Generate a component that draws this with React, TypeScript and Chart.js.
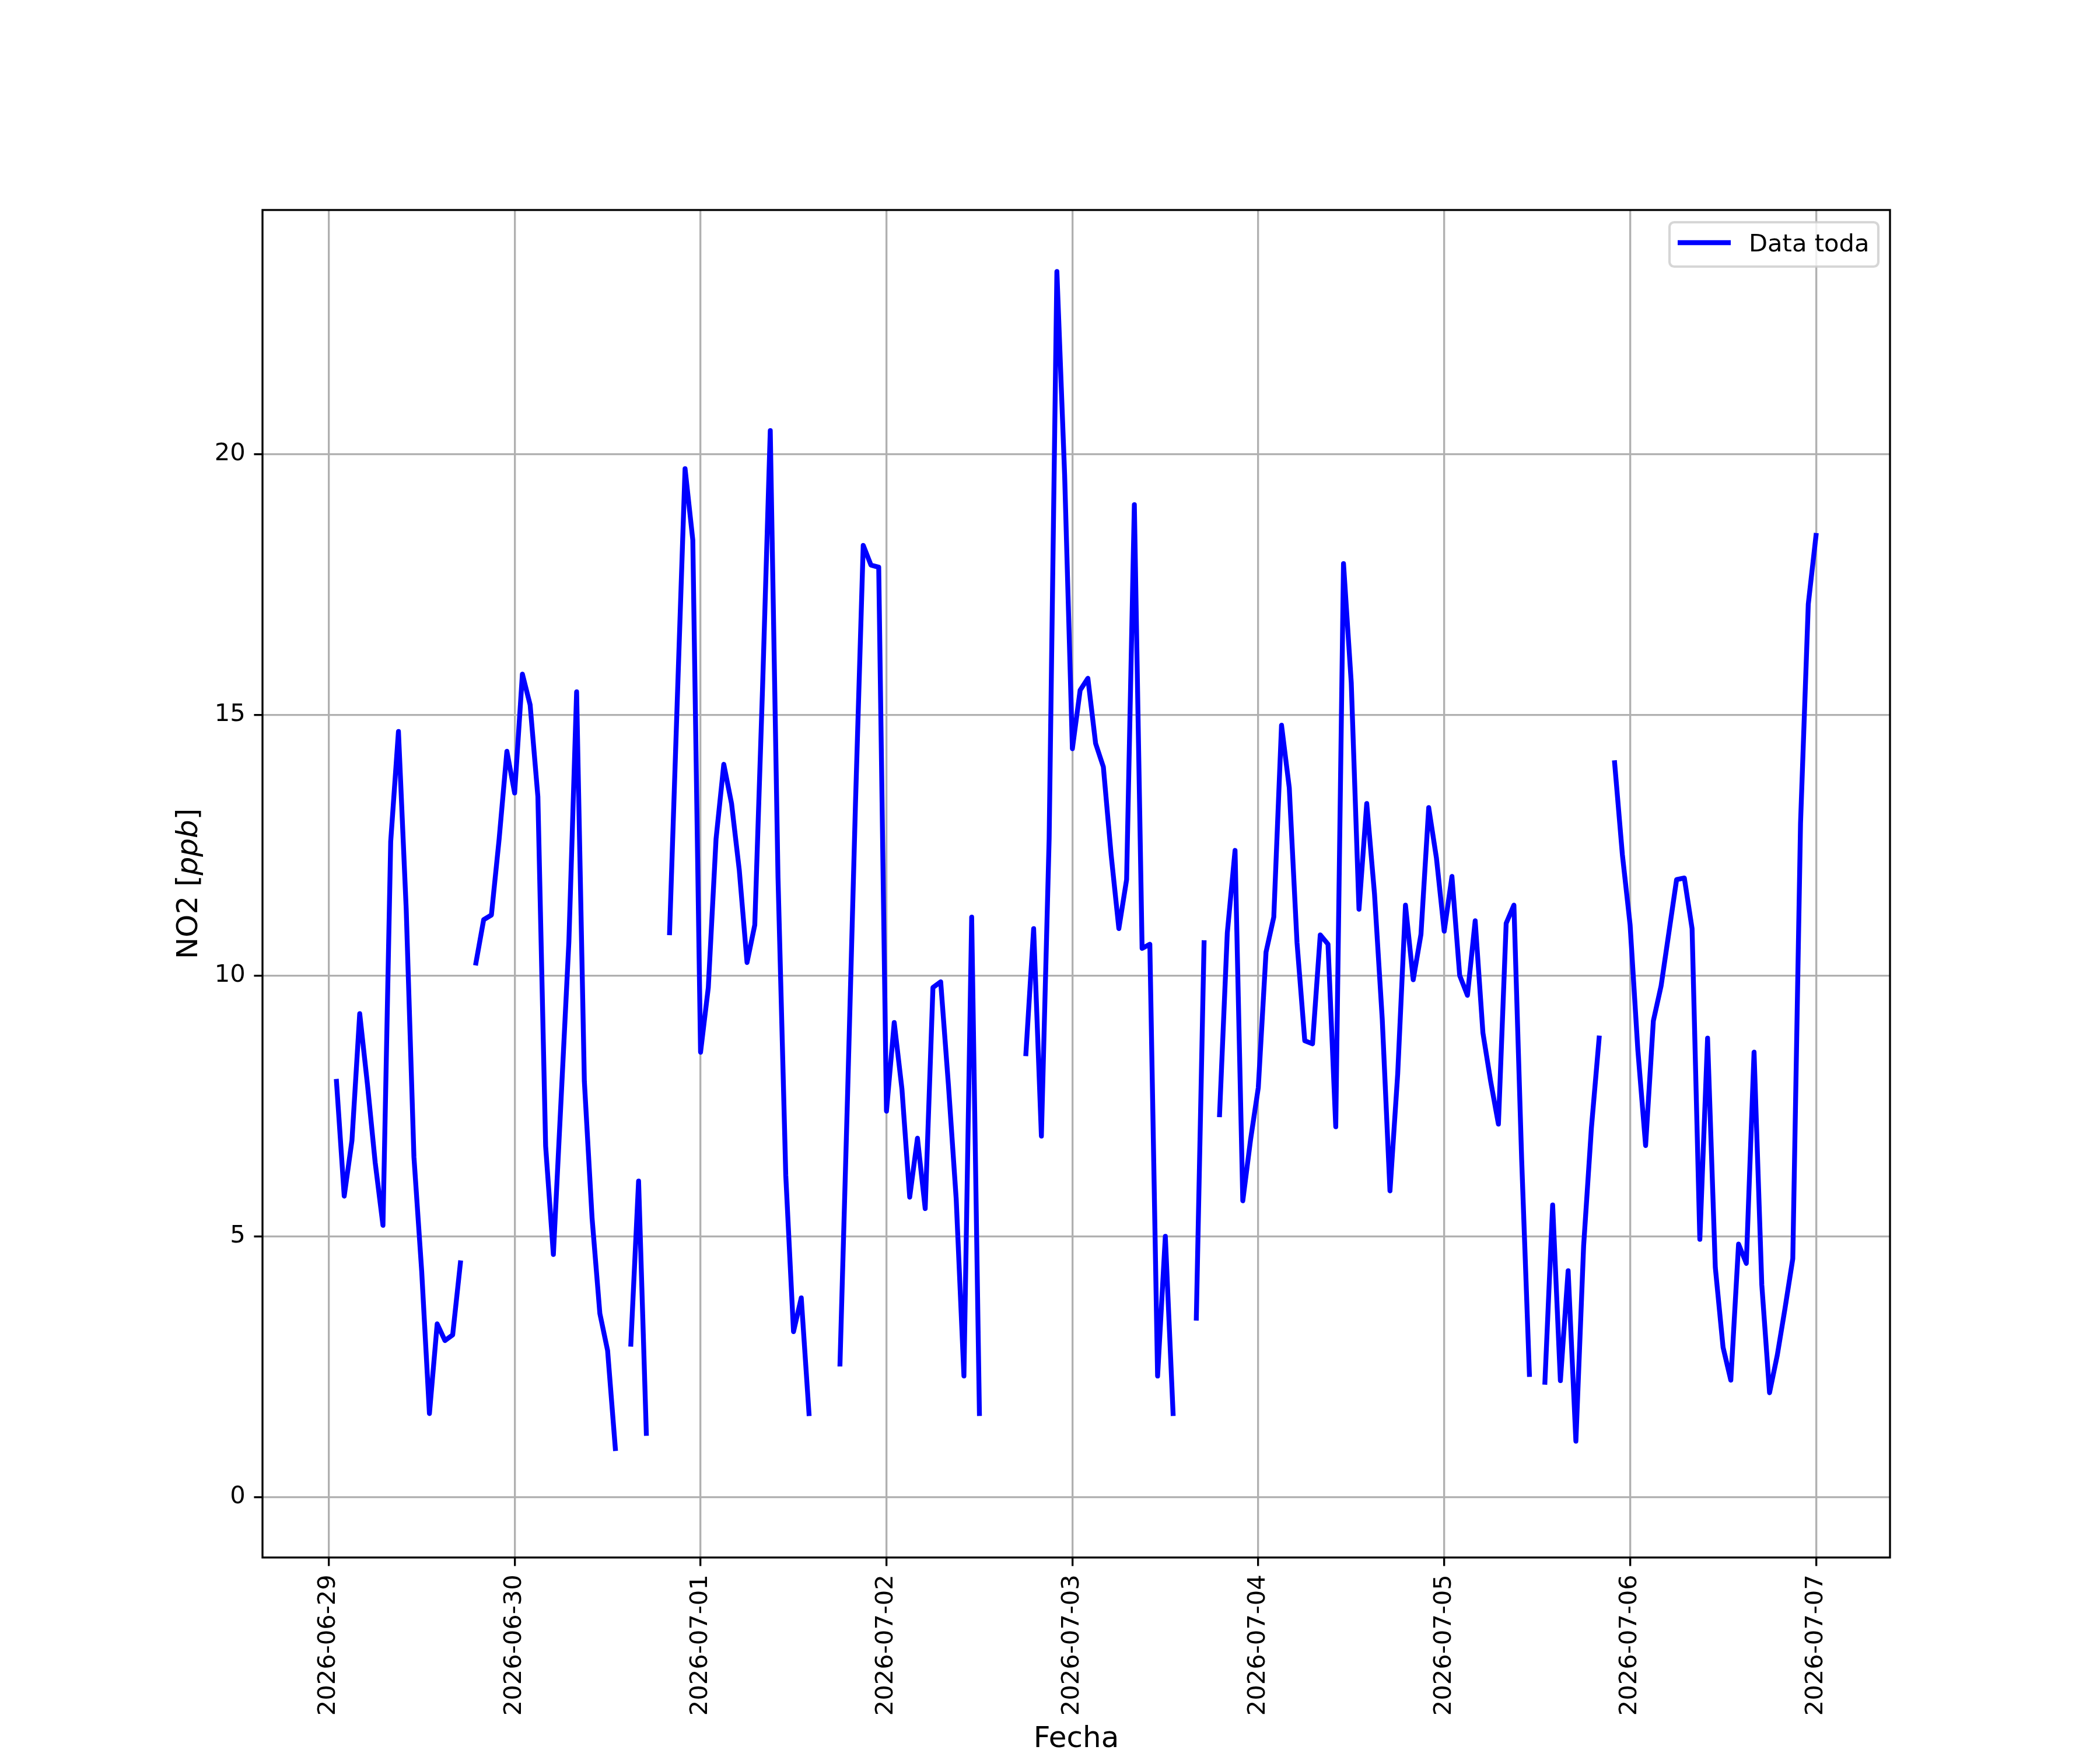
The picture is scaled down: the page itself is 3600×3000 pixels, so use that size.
import { useEffect, useRef } from "react";
import { Chart, registerables } from "chart.js";

Chart.register(...registerables);

// hourly NO2 readings, first reading at 2026-06-29 01:00 (null = no data)
const FIRST_HOUR = 1;
const NO2 = [
  7.97, 5.77, 6.84, 9.27, 7.91, 6.41, 5.21, 12.57, 14.68, 11.28, 6.52, 4.33,
  1.6, 3.32, 3.0, 3.11, 4.49, null, 10.24, 11.07, 11.16, 12.62, 14.3, 13.5,
  15.78, 15.19, 13.43, 6.73, 4.65, 7.64, 10.64, 15.44, 7.97, 5.34, 3.52, 2.81,
  0.93, null, 2.93, 6.06, 1.22, null, null, 10.82, 15.3, 19.72, 18.35, 8.53,
  9.77, 12.62, 14.05, 13.3, 12.02, 10.25, 10.97, 15.5, 20.45, 11.87, 6.17, 3.17,
  3.82, 1.6, null, null, null, 2.55, 7.82, 13.3, 18.25, 17.87, 17.83, 7.4,
  9.1, 7.82, 5.75, 6.88, 5.53, 9.77, 9.88, 7.9, 5.72, 2.32, 11.12, 1.6,
  null, null, null, null, null, 8.5, 10.9, 6.92, 12.62, 23.5, 19.6, 14.35,
  15.47, 15.7, 14.45, 14.0, 12.32, 10.9, 11.84, 19.03, 10.52, 10.6, 2.32, 5.0,
  1.6, null, null, 3.43, 10.63, null, 7.33, 10.82, 12.4, 5.68, 6.85, 7.85,
  10.45, 11.12, 14.8, 13.6, 10.63, 8.75, 8.69, 10.78, 10.6, 7.1, 17.9, 15.62,
  11.27, 13.3, 11.57, 9.17, 5.87, 8.12, 11.35, 9.92, 10.79, 13.22, 12.25, 10.85,
  11.9, 10.0, 9.62, 11.05, 8.9, 7.97, 7.15, 11.0, 11.35, 6.47, 2.35, null,
  2.2, 5.6, 2.23, 4.34, 1.07, 4.82, 7.07, 8.8, null, 14.08, 12.32, 10.97,
  8.57, 6.74, 9.13, 9.8, 10.82, 11.84, 11.87, 10.9, 4.94, 8.8, 4.4, 2.87,
  2.24, 4.85, 4.48, 8.53, 4.07, 2.0, 2.72, 3.62, 4.57, 12.92, 17.12, 18.44,
];

const DAY_LABELS = [
  "2026-06-29",
  "2026-06-30",
  "2026-07-01",
  "2026-07-02",
  "2026-07-03",
  "2026-07-04",
  "2026-07-05",
  "2026-07-06",
  "2026-07-07",
];
const Y_TICKS = [0, 5, 10, 15, 20];

const FONT = "'DejaVu Sans', sans-serif";
const PT = 300 / 72;

const decorations = {
  id: "decorations",
  afterDatasetsDraw(chart: any) {
    const { ctx, chartArea: a } = chart;
    ctx.save();
    ctx.strokeStyle = "#000";
    ctx.lineWidth = 0.8 * PT;
    ctx.strokeRect(a.left, a.top, a.right - a.left, a.bottom - a.top);
    ctx.restore();
  },
  afterDraw(chart: any) {
    const { ctx, chartArea: a } = chart;
    ctx.save();

    // legend box
    const lx = 2862, ly = 381, lw = 358, lh = 76, r = 8;
    ctx.beginPath();
    ctx.moveTo(lx + r, ly);
    ctx.arcTo(lx + lw, ly, lx + lw, ly + lh, r);
    ctx.arcTo(lx + lw, ly + lh, lx, ly + lh, r);
    ctx.arcTo(lx, ly + lh, lx, ly, r);
    ctx.arcTo(lx, ly, lx + lw, ly, r);
    ctx.closePath();
    ctx.fillStyle = "rgba(255,255,255,0.8)";
    ctx.fill();
    ctx.strokeStyle = "rgba(204,204,204,0.8)";
    ctx.lineWidth = PT;
    ctx.stroke();

    ctx.beginPath();
    ctx.moveTo(2876, 416);
    ctx.lineTo(2967, 416);
    ctx.strokeStyle = "#0000ff";
    ctx.lineWidth = 2 * PT;
    ctx.stroke();

    ctx.fillStyle = "#000";
    ctx.font = `${10 * PT}px ${FONT}`;
    ctx.textAlign = "left";
    ctx.textBaseline = "alphabetic";
    ctx.fillText("Data toda", 2998, 431);

    // x axis title
    ctx.font = `${12 * PT}px ${FONT}`;
    ctx.textAlign = "center";
    ctx.fillText("Fecha", (a.left + a.right) / 2, 2995);

    // y axis title with italic unit
    const parts = [
      { t: "NO2 [", f: `${12 * PT}px ${FONT}` },
      { t: "ppb", f: `italic ${12 * PT}px ${FONT}` },
      { t: "]", f: `${12 * PT}px ${FONT}` },
    ];
    let total = 0;
    const widths = parts.map((p) => {
      ctx.font = p.f;
      const w = ctx.measureText(p.t).width;
      total += w;
      return w;
    });
    ctx.translate(338, (a.top + a.bottom) / 2);
    ctx.rotate(-Math.PI / 2);
    ctx.textAlign = "left";
    let x = -total / 2;
    parts.forEach((p, i) => {
      ctx.font = p.f;
      ctx.fillText(p.t, x, 0);
      x += widths[i];
    });
    ctx.restore();
  },
};

export default function App() {
  const canvasRef = useRef<HTMLCanvasElement>(null);

  useEffect(() => {
    if (!canvasRef.current) return;
    const points = NO2.map((v, i) => ({ x: i + FIRST_HOUR, y: v }));
    const dayTicks = DAY_LABELS.map((_, i) => i * 24);

    const chart = new Chart(canvasRef.current, {
      type: "line",
      data: {
        datasets: [
          {
            label: "Data toda",
            data: points as any,
            borderColor: "#0000ff",
            borderWidth: 2 * PT,
            borderJoinStyle: "round",
            borderCapStyle: "square",
            pointRadius: 0,
            tension: 0,
            spanGaps: false,
            fill: false,
          },
        ],
      },
      options: {
        animation: false,
        responsive: false,
        devicePixelRatio: 1,
        layout: { padding: { top: 360, right: 360, left: 0, bottom: 0 } },
        plugins: {
          legend: { display: false },
          tooltip: { enabled: false },
        },
        scales: {
          x: {
            type: "linear",
            min: -8.55,
            max: 201.55,
            afterBuildTicks: (s: any) => {
              s.ticks = dayTicks.map((v) => ({ value: v }));
            },
            afterFit: (s: any) => {
              s.height = 330;
            },
            ticks: {
              autoSkip: false,
              minRotation: 90,
              maxRotation: 90,
              padding: 3.5 * PT,
              color: "#000",
              font: { family: FONT, size: 10 * PT },
              callback: (v: any) => DAY_LABELS[dayTicks.indexOf(Number(v))] ?? "",
            },
            grid: {
              color: "#b0b0b0",
              lineWidth: 0.8 * PT,
              tickLength: 3.5 * PT,
              tickColor: "#000",
              tickWidth: 0.8 * PT,
            },
            border: { display: false },
          },
          y: {
            type: "linear",
            min: -1.16,
            max: 24.68,
            afterBuildTicks: (s: any) => {
              s.ticks = Y_TICKS.map((v) => ({ value: v }));
            },
            afterFit: (s: any) => {
              s.width = 450;
            },
            ticks: {
              padding: 3.5 * PT,
              color: "#000",
              font: { family: FONT, size: 10 * PT },
              callback: (v: any) => String(v),
            },
            grid: {
              color: "#b0b0b0",
              lineWidth: 0.8 * PT,
              tickLength: 3.5 * PT,
              tickColor: "#000",
              tickWidth: 0.8 * PT,
            },
            border: { display: false },
          },
        },
      },
      plugins: [decorations],
    });

    return () => chart.destroy();
  }, []);

  return (
    <div
      style={{
        position: "absolute",
        left: 0,
        top: 0,
        width: 3600,
        height: 3000,
        background: "#fff",
      }}
    >
      <canvas
        ref={canvasRef}
        width={3600}
        height={3000}
        style={{ display: "block", width: 3600, height: 3000 }}
      />
    </div>
  );
}
